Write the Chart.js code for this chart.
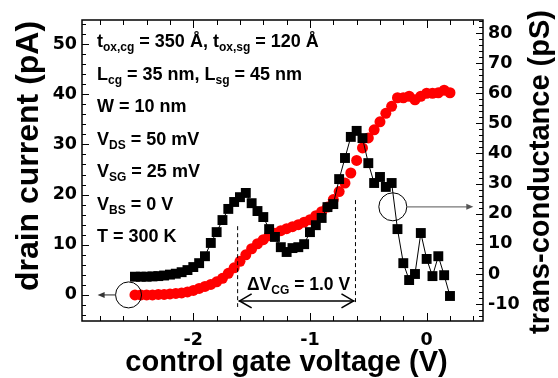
<!DOCTYPE html>
<html><head><meta charset="utf-8">
<script src="https://cdn.jsdelivr.net/npm/chart.js@4.4.1/dist/chart.umd.min.js"></script>
<style>html,body{margin:0;padding:0;background:#fff;overflow:hidden}canvas{display:block}</style>
</head><body>
<canvas id="c" width="558" height="378"></canvas>
<script>
const gateVoltage = [-2.50,-2.45,-2.40,-2.35,-2.30,-2.25,-2.20,-2.15,-2.10,-2.05,-2.00,-1.95,-1.90,-1.85,-1.80,-1.75,-1.70,-1.65,-1.60,-1.55,-1.50,-1.45,-1.40,-1.35,-1.30,-1.25,-1.20,-1.15,-1.10,-1.05,-1.00,-0.95,-0.90,-0.85,-0.80,-0.75,-0.70,-0.65,-0.60,-0.55,-0.50,-0.45,-0.40,-0.35,-0.30,-0.25,-0.20,-0.15,-0.10,-0.05,0.00,0.05,0.10,0.15,0.20];
const drainCurrent = [0.0,0.0,0.0,0.0,0.1,0.1,0.2,0.3,0.4,0.6,0.9,1.3,1.7,2.1,2.6,3.3,4.3,5.4,6.7,8.0,9.2,10.2,11.0,11.8,12.3,12.8,13.2,13.6,14.0,14.5,15.0,15.8,16.6,17.5,19.0,20.6,22.3,24.3,26.8,29.3,31.3,32.9,34.5,36.2,37.6,39.3,39.3,39.6,38.9,39.6,40.2,40.2,40.3,40.8,40.3];
const transConductance = [-0.9,-0.9,-0.9,-0.8,-0.7,-0.5,-0.2,0.1,0.6,1.3,2.3,3.6,5.9,10.3,13.9,17.9,21.6,23.9,25.5,26.9,23.5,20.9,18.9,14.9,12.3,8.9,7.3,8.6,8.9,9.9,13.9,16.2,18.6,22.2,23.2,31.5,38.5,45.5,47.5,45.1,36.8,30.2,32.2,28.9,30.2,14.9,3.6,-2.0,0.0,13.6,5.0,-0.7,5.9,-0.4,-7.3];
const xTickValues = [-2, -1, 0];
const leftTickValues = [0, 10, 20, 30, 40, 50];
const rightTickValues = [-10, 0, 10, 20, 30, 40, 50, 60, 70, 80];
const xTitle = 'control gate voltage (V)';
const leftTitle = 'drain current (pA)';
const rightTitle = 'trans-conductance (pS)';
const infoLines = [
  [['t',0],['ox,cg',1],[' = 350 Å, t',0],['ox,sg',1],[' = 120 Å',0]],
  [['L',0],['cg',1],[' = 35 nm, L',0],['sg',1],[' = 45 nm',0]],
  [['W = 10 nm',0]],
  [['V',0],['DS',1],[' = 50 mV',0]],
  [['V',0],['SG',1],[' = 25 mV',0]],
  [['V',0],['BS',1],[' = 0 V',0]],
  [['T = 300 K',0]]
];
const deltaLabel = [['ΔV',0],['CG',1],[' = 1.0 V',0]];
const markerLeftV = -1.62, markerRightV = -0.61;

const FONT = '"Liberation Sans", Arial, Helvetica, sans-serif';
const TICKFONT = '"DejaVu Sans", sans-serif';

function richText(ctx, parts, x, y, size, subSize, align) {
  let w = 0;
  for (const [t, s] of parts) { ctx.font = `bold ${s ? subSize : size}px ${FONT}`; w += ctx.measureText(t).width; }
  let cx = align === 'center' ? x - w / 2 : x;
  ctx.textAlign = 'left'; ctx.textBaseline = 'alphabetic';
  for (const [t, s] of parts) {
    ctx.font = `bold ${s ? subSize : size}px ${FONT}`;
    ctx.fillText(t, cx, s ? y + 4 : y);
    cx += ctx.measureText(t).width;
  }
}
function line(ctx, x1, y1, x2, y2) { ctx.beginPath(); ctx.moveTo(x1, y1); ctx.lineTo(x2, y2); ctx.stroke(); }

const framePlugin = {
  id: 'frame',
  afterDraw(chart) {
    const { ctx, chartArea: a, scales } = chart;
    const x = scales.x, y = scales.y, y2 = scales.y2;
    ctx.save();
    ctx.strokeStyle = '#000'; ctx.fillStyle = '#000';
    ctx.lineWidth = 1.5;
    ctx.strokeRect(a.left, a.top, a.right - a.left, a.bottom - a.top);
    ctx.lineWidth = 1;
    for (let i = -15; i <= 3; i++) {
      const v = i * 0.2; if (v < x.min || v > x.max) continue;
      const px = Math.round(x.getPixelForValue(v)) + 0.5;
      const L = (i % 5 === 0) ? 8 : 5;
      line(ctx, px, a.bottom, px, a.bottom - L);
      line(ctx, px, a.top, px, a.top + L);
    }
    for (let v = -4; v <= y.max; v += 2) {
      const py = Math.round(y.getPixelForValue(v)) + 0.5;
      const L = (v % 10 === 0) ? 7 : 4;
      line(ctx, a.left, py, a.left + L, py);
    }
    for (let v = -14; v <= y2.max; v += 2) {
      const py = Math.round(y2.getPixelForValue(v)) + 0.5;
      const L = (v % 10 === 0) ? 7 : 4;
      line(ctx, a.right, py, a.right - L, py);
    }
    ctx.fillStyle = '#000';
    ctx.font = `bold 29px ${FONT}`; ctx.textAlign = 'center'; ctx.textBaseline = 'alphabetic';
    ctx.fillText(xTitle, (a.left + a.right) / 2 + 4, 371);
    ctx.save(); ctx.translate(38, 156); ctx.rotate(-Math.PI / 2);
    ctx.font = `bold 32px ${FONT}`; ctx.fillText(leftTitle, 0, 0); ctx.restore();
    ctx.save(); ctx.translate(549, 172); ctx.rotate(-Math.PI / 2);
    ctx.font = `bold 29px ${FONT}`; ctx.fillText(rightTitle, 0, 0); ctx.restore();
    infoLines.forEach((parts, i) => richText(ctx, parts, a.left + 15, a.top + 27 + 32.5 * i, 18, 12, 'left'));
    const xl = x.getPixelForValue(markerLeftV), xr = x.getPixelForValue(markerRightV);
    ctx.setLineDash([4, 3]); ctx.lineWidth = 1;
    line(ctx, xl, y.getPixelForValue(13.7), xl, y.getPixelForValue(-2.4));
    line(ctx, xr, y.getPixelForValue(18.9), xr, y.getPixelForValue(-2.0));
    ctx.setLineDash([]);
    const ya = y.getPixelForValue(-1.2);
    ctx.lineWidth = 1.6;
    line(ctx, xl + 1, ya, xr - 1, ya);
    ctx.beginPath(); ctx.moveTo(xl + 14, ya - 7); ctx.lineTo(xl + 2, ya); ctx.lineTo(xl + 14, ya + 7); ctx.stroke();
    ctx.beginPath(); ctx.moveTo(xr - 14, ya - 7); ctx.lineTo(xr - 2, ya); ctx.lineTo(xr - 14, ya + 7); ctx.stroke();
    richText(ctx, deltaLabel, (xl + xr) / 2 + 2, y.getPixelForValue(1.0), 17.5, 12, 'center');
    ctx.lineWidth = 1; ctx.strokeStyle = '#000';
    const c1x = x.getPixelForValue(-2.555), c1y = y.getPixelForValue(0);
    ctx.beginPath(); ctx.arc(c1x, c1y, 13, 0, Math.PI * 2); ctx.stroke();
    const c2x = x.getPixelForValue(-0.29), c2y = y2.getPixelForValue(22.3);
    ctx.beginPath(); ctx.arc(c2x, c2y, 14, 0, Math.PI * 2); ctx.stroke();
    ctx.strokeStyle = '#555'; ctx.fillStyle = '#333'; ctx.lineWidth = 1.3;
    const a1 = x.getPixelForValue(-2.82);
    line(ctx, c1x - 13, c1y, a1 + 4, c1y);
    ctx.beginPath(); ctx.moveTo(a1, c1y); ctx.lineTo(a1 + 7, c1y - 3); ctx.lineTo(a1 + 7, c1y + 3); ctx.closePath(); ctx.fill();
    const a2 = x.getPixelForValue(0.40);
    ctx.strokeStyle = '#777';
    line(ctx, c2x + 14, c2y, a2 - 4, c2y);
    ctx.fillStyle = '#555';
    ctx.beginPath(); ctx.moveTo(a2, c2y); ctx.lineTo(a2 - 7, c2y - 3); ctx.lineTo(a2 - 7, c2y + 3); ctx.closePath(); ctx.fill();
    ctx.restore();
  }
};

const tickFont = { family: TICKFONT, size: 17.5, weight: 'bold' };
const fmt = v => String(v);

new Chart(document.getElementById('c'), {
  type: 'scatter',
  data: {
    datasets: [
      {
        label: 'trans-conductance',
        data: gateVoltage.map((v, i) => ({ x: v, y: transConductance[i] })),
        yAxisID: 'y2', showLine: true, borderColor: '#000', borderWidth: 1,
        pointStyle: 'rect', pointRadius: 7, backgroundColor: '#000',
        pointBackgroundColor: '#000', pointBorderColor: '#000', pointBorderWidth: 0,
        order: 0
      },
      {
        label: 'drain current',
        data: gateVoltage.map((v, i) => ({ x: v, y: drainCurrent[i] })),
        yAxisID: 'y', showLine: false, borderColor: '#ff0000', backgroundColor: '#ff0000',
        pointStyle: 'circle', pointRadius: 5.5, pointBorderWidth: 0,
        pointBackgroundColor: '#ff0000',
        order: 1
      }
    ]
  },
  options: {
    responsive: false, animation: false, devicePixelRatio: 1,
    layout: { padding: { top: 20, left: 0, right: 0, bottom: 0 } },
    plugins: { legend: { display: false }, tooltip: { enabled: false } },
    scales: {
      x: {
        type: 'linear', position: 'bottom', min: -2.954, max: 0.483,
        afterBuildTicks: s => { s.ticks = xTickValues.map(v => ({ value: v })); },
        afterFit: s => { s.height = 57; },
        grid: { display: false, drawTicks: false }, border: { display: false },
        ticks: { font: tickFont, color: '#000', padding: 9, maxRotation: 0, callback: fmt }
      },
      y: {
        type: 'linear', position: 'left', min: -5.2, max: 54.8,
        afterBuildTicks: s => { s.ticks = leftTickValues.map(v => ({ value: v })); },
        afterFit: s => { s.width = 82; },
        grid: { display: false, drawTicks: false }, border: { display: false },
        ticks: { font: tickFont, color: '#000', padding: 5, callback: fmt }
      },
      y2: {
        type: 'linear', position: 'right', min: -15.6, max: 84.3,
        afterBuildTicks: s => { s.ticks = rightTickValues.map(v => ({ value: v })); },
        afterFit: s => { s.width = 75; },
        grid: { display: false, drawTicks: false }, border: { display: false },
        ticks: { font: tickFont, color: '#000', padding: 5, callback: fmt }
      }
    }
  },
  plugins: [framePlugin]
});
</script>
</body></html>
